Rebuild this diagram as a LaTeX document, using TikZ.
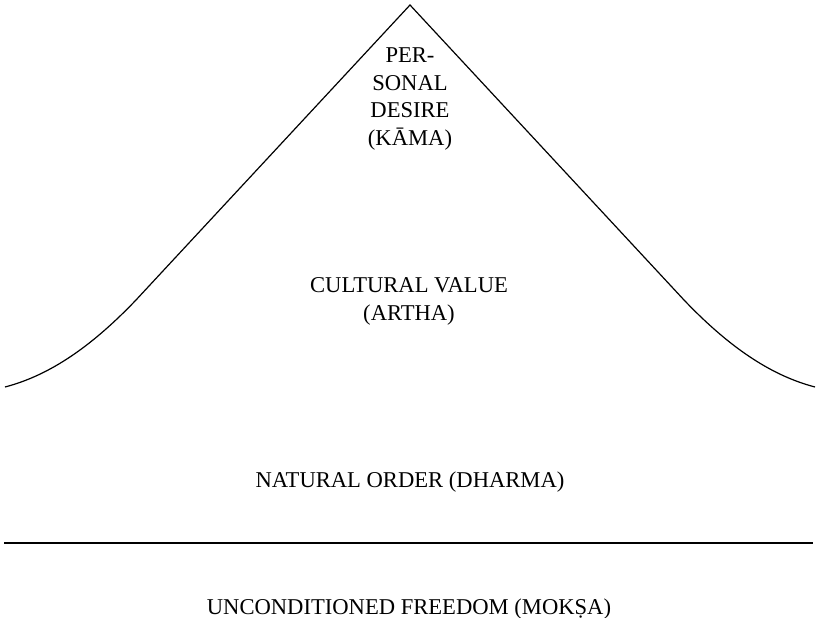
\documentclass[tikz,border=0pt]{standalone}
\usepackage{fontspec}
\setmainfont{Liberation Serif}
\begin{document}
\begin{tikzpicture}[x=1pt,y=-1pt,
  label/.style={font=\fontsize{22.6}{27.5}\selectfont, inner sep=0pt, align=center, anchor=base},
  outline/.style={line width=1.2pt, black}]
\useasboundingbox (0,0) rectangle (816,618);
% bell-shaped mountain
\coordinate (L) at (5,387);
\coordinate (Lk) at (136,300);
\coordinate (apex) at (410,5);
\coordinate (Rk) at (684,300);
\coordinate (R) at (815,387);
\draw[outline] (L) .. controls (51,375) and (93,345) .. (Lk) -- (apex) -- (Rk)
  .. controls (727,345) and (769,375) .. (R);
% horizontal dividing line
\coordinate (hl) at (4,543);
\coordinate (hr) at (813,543);
\draw[outline] (hl) -- (hr);
% labels (anchor base = baseline of the last line)
\node[label] (kama) at (410,145) {PER-\\SONAL\\DESIRE\\(KĀMA)};
\node[label] (artha) at (409,320) {CULTURAL VALUE\\(ARTHA)};
\node[label] (dharma) at (410,487) {NATURAL ORDER (DHARMA)};
\node[label] (moksa) at (409,614) {UNCONDITIONED FREEDOM (MOKṢA)};
\end{tikzpicture}
\end{document}
